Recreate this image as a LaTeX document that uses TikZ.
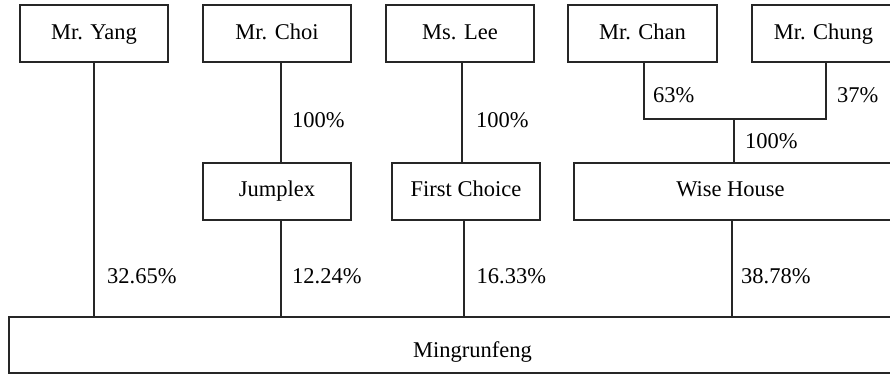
\documentclass[tikz,border=0pt]{standalone}
\usepackage{fontspec}
\setmainfont{Liberation Serif}
\begin{document}
\begin{tikzpicture}[x=1pt,y=-1pt,
  every node/.style={font=\fontsize{22.5}{27}\selectfont},
  box/.style={draw=black!85, line width=1.1pt, rectangle, inner sep=0pt, minimum height=57pt},
  openbox/.style={rectangle, inner sep=0pt, outer sep=0pt, minimum height=57pt},
  toprow/.style={text height=17pt, text depth=4pt},
  midrow/.style={text height=16pt, text depth=7pt},
  pct/.style={anchor=base west, inner sep=0pt},
  link/.style={draw=black!85, line width=1.1pt}]
\useasboundingbox (0,0) rectangle (890,374);
\clip (0,0) rectangle (890,374);
% top row
\node[box, toprow, minimum width=148pt] (yang) at (94,33.5) {Mr. Yang};
\node[box, toprow, minimum width=148pt] (choi) at (277,33.5) {Mr. Choi};
\node[box, toprow, minimum width=148pt] (lee) at (460,33.5) {Ms. Lee};
\node[box, toprow, minimum width=149pt] (chan) at (642.5,33.5) {Mr. Chan};
\node[box, toprow, minimum width=143pt] (chung) at (823.5,33.5) {Mr. Chung};
% middle row
\node[box, midrow, minimum width=148pt] (jump) at (277,191.5) {Jumplex};
\node[box, midrow, minimum width=148pt] (fc) at (466,191.5) {First Choice};
\node[openbox, midrow, minimum width=313pt] (wise) at (730.5,191.5) {Wise House};
\draw[link] ([xshift=10pt]wise.north east) -- (wise.north west) -- (wise.south west) -- ([xshift=10pt]wise.south east);
% bottom
\node[openbox, text height=27.4pt, text depth=2pt, minimum width=927pt, minimum height=56pt] (ming) at (472.5,345) {Mingrunfeng};
\draw[link] ([xshift=10pt]ming.north east) -- (ming.north west) -- (ming.south west) -- ([xshift=10pt]ming.south east);
% joint coordinates
\coordinate (jl) at (644,119);
\coordinate (jr) at (826,119);
\coordinate (jm) at (734,119);
% connectors
\draw[link] (yang.south) -- (yang.south |- ming.north);
\draw[link] (choi.south -| 281,0) -- (jump.north -| 281,0);
\draw[link] (lee.south -| 462,0) -- (fc.north -| 462,0);
\draw[link] (chan.south -| jl) -- (jl) -- (jr) -- (chung.south -| jr);
\draw[link] (jm) -- (wise.north -| jm);
\draw[link] (jump.south -| 281,0) -- (ming.north -| 281,0);
\draw[link] (fc.south -| 464,0) -- (ming.north -| 464,0);
\draw[link] (wise.south -| 732,0) -- (ming.north -| 732,0);
% labels
\node[pct] (l1) at (292,128) {100\%};
\node[pct] (l2) at (476,128) {100\%};
\node[pct] (l3) at (653,102.7) {63\%};
\node[pct] (l4) at (837,102.7) {37\%};
\node[pct] (l5) at (745,149) {100\%};
\node[pct] (l6) at (107,283.3) {32.65\%};
\node[pct] (l7) at (292,283.3) {12.24\%};
\node[pct] (l8) at (476.5,283.3) {16.33\%};
\node[pct] (l9) at (741,283.3) {38.78\%};
\end{tikzpicture}
\end{document}
